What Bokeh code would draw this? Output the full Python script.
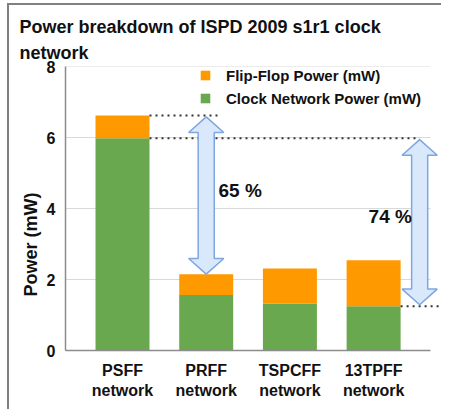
from bokeh.plotting import figure
from bokeh.models import (Range1d, FixedTicker, Label, Legend, LegendItem,
                          ColumnDataSource, Title)
from bokeh.embed import file_html
from bokeh.resources import INLINE

# ---- data ----
categories = ["PSFF\nnetwork", "PRFF\nnetwork", "TSPCFF\nnetwork", "13TPFF\nnetwork"]
clock_power = [5.98, 1.56, 1.32, 1.25]
flipflop_power = [0.64, 0.59, 0.99, 1.29]
y_ticks = [0, 2, 4, 6, 8]
reduction_labels = ["65 %", "74 %"]

FONT = "Liberation Sans"
ORANGE = "#ff9900"
GREEN = "#6aa84f"
TXT = "#111111"

idx = list(range(len(categories)))
totals = [c + f for c, f in zip(clock_power, flipflop_power)]

X_START, X_END = -0.681, 3.811
AXIS_END = 3.68
BAR_W = 0.645

p = figure(width=441, height=409, output_backend="svg", toolbar_location=None,
           x_range=Range1d(X_START, X_END), y_range=Range1d(0, 8),
           min_border_left=65, min_border_top=66, min_border_bottom=59,
           min_border_right=0)
p.outline_line_color = None
p.xgrid.visible = False
p.ygrid.visible = False
p.border_fill_alpha = 0
p.styles = {
    "background": ("linear-gradient(#808080,#808080) 7px 3px / 2px calc(100% - 3px) no-repeat, "
                   "linear-gradient(#808080,#808080) 7px 3px / calc(100% - 7px) 2px no-repeat, "
                   "#ffffff")
}

p.title.text = "Power breakdown of ISPD 2009 s1r1 clock\nnetwork"
p.title.align = "left"
p.title.offset = -46
p.title.text_font = FONT
p.title.text_font_style = "bold"
p.title.text_font_size = "18px"
p.title.text_line_height = 1.3
p.title.text_color = TXT
p.title.standoff = 8

# manual gridlines restricted to the axis extent
p.segment(x0=[X_START] * 4, x1=[AXIS_END] * 4, y0=y_ticks[1:], y1=y_ticks[1:],
          line_color="#d9d9d9", line_width=1.2)

src = ColumnDataSource(dict(x=idx, clock=clock_power, total=totals,
                            zero=[0] * len(idx)))
r_clock = p.vbar(x="x", width=BAR_W, bottom="zero", top="clock", source=src,
                 fill_color=GREEN, line_color=None)
r_ff = p.vbar(x="x", width=BAR_W, bottom="clock", top="total", source=src,
              fill_color=ORANGE, line_color=None)

# dotted reference lines
dot = dict(line_color="#333333", line_width=2, line_dash="2 4")
p.segment(x0=[idx[0] + BAR_W / 2], x1=[1.135], y0=[totals[0]], y1=[totals[0]], **dot)
p.segment(x0=[idx[0] + BAR_W / 2], x1=[3.55], y0=[clock_power[0]], y1=[clock_power[0]], **dot)
p.segment(x0=[idx[3] + BAR_W / 2], x1=[3.87], y0=[clock_power[3]], y1=[clock_power[3]], **dot)

# double-headed block arrows
def arrow(xc, y0, y1, sw=0.096, hw=0.21, hl=0.44):
    xs = [xc, xc + hw, xc + sw, xc + sw, xc + hw, xc, xc - hw, xc - sw, xc - sw, xc - hw]
    ys = [y1, y1 - hl, y1 - hl, y0 + hl, y0 + hl, y0, y0 + hl, y0 + hl, y1 - hl, y1 - hl]
    return xs, ys

a1 = arrow(idx[1], totals[1], totals[0] - 0.04)
a2 = arrow(3.55, clock_power[3] + 0.04, clock_power[0] - 0.04)
p.patches(xs=[a1[0], a2[0]], ys=[a1[1], a2[1]], fill_color="#dae8fc",
          line_color="#7ea6e0", line_width=1.5)

p.add_layout(Label(x=1.147, y=4.51, text=reduction_labels[0], text_font=FONT,
                   text_font_style="bold", text_font_size="19px",
                   text_baseline="middle", text_align="left", text_color=TXT))
p.add_layout(Label(x=2.94, y=3.77, text=reduction_labels[1], text_font=FONT,
                   text_font_style="bold", text_font_size="19px",
                   text_baseline="middle", text_align="left", text_color=TXT))

# axes
p.xaxis.ticker = FixedTicker(ticks=idx)
p.xaxis.major_label_overrides = {i: c for i, c in zip(idx, categories)}
p.xaxis.bounds = (X_START, AXIS_END)
p.yaxis.ticker = FixedTicker(ticks=y_ticks)
for ax in (p.xaxis[0], p.yaxis[0]):
    ax.axis_line_color = "#8c8c8c"
    ax.axis_line_width = 1.5
    ax.major_tick_line_color = None
    ax.minor_tick_line_color = None
    ax.major_label_text_font = FONT
    ax.major_label_text_font_style = "bold"
    ax.major_label_text_font_size = "16px"
    ax.major_label_text_color = TXT
p.xaxis.major_label_standoff = 5
p.yaxis.major_label_standoff = 4

# y-axis title (placed along the left side, shifted toward the bottom)
p.add_layout(Title(text="Power (mW)", align="left", offset=54,
                   text_font=FONT, text_font_style="bold",
                   text_font_size="18px", text_color=TXT, standoff=6), "left")

legend = Legend(items=[LegendItem(label="Flip-Flop Power (mW)", renderers=[r_ff]),
                       LegendItem(label="Clock Network Power (mW)", renderers=[r_clock])],
                location=(134, 242), orientation="vertical",
                label_text_font=FONT, label_text_font_style="bold",
                label_text_font_size="15px", label_text_color=TXT,
                glyph_width=12, glyph_height=12, label_height=20, spacing=3,
                padding=0, margin=0, label_standoff=15,
                background_fill_alpha=0, border_line_color=None)
p.add_layout(legend)

open("out.html", "w").write(file_html(p, INLINE))
